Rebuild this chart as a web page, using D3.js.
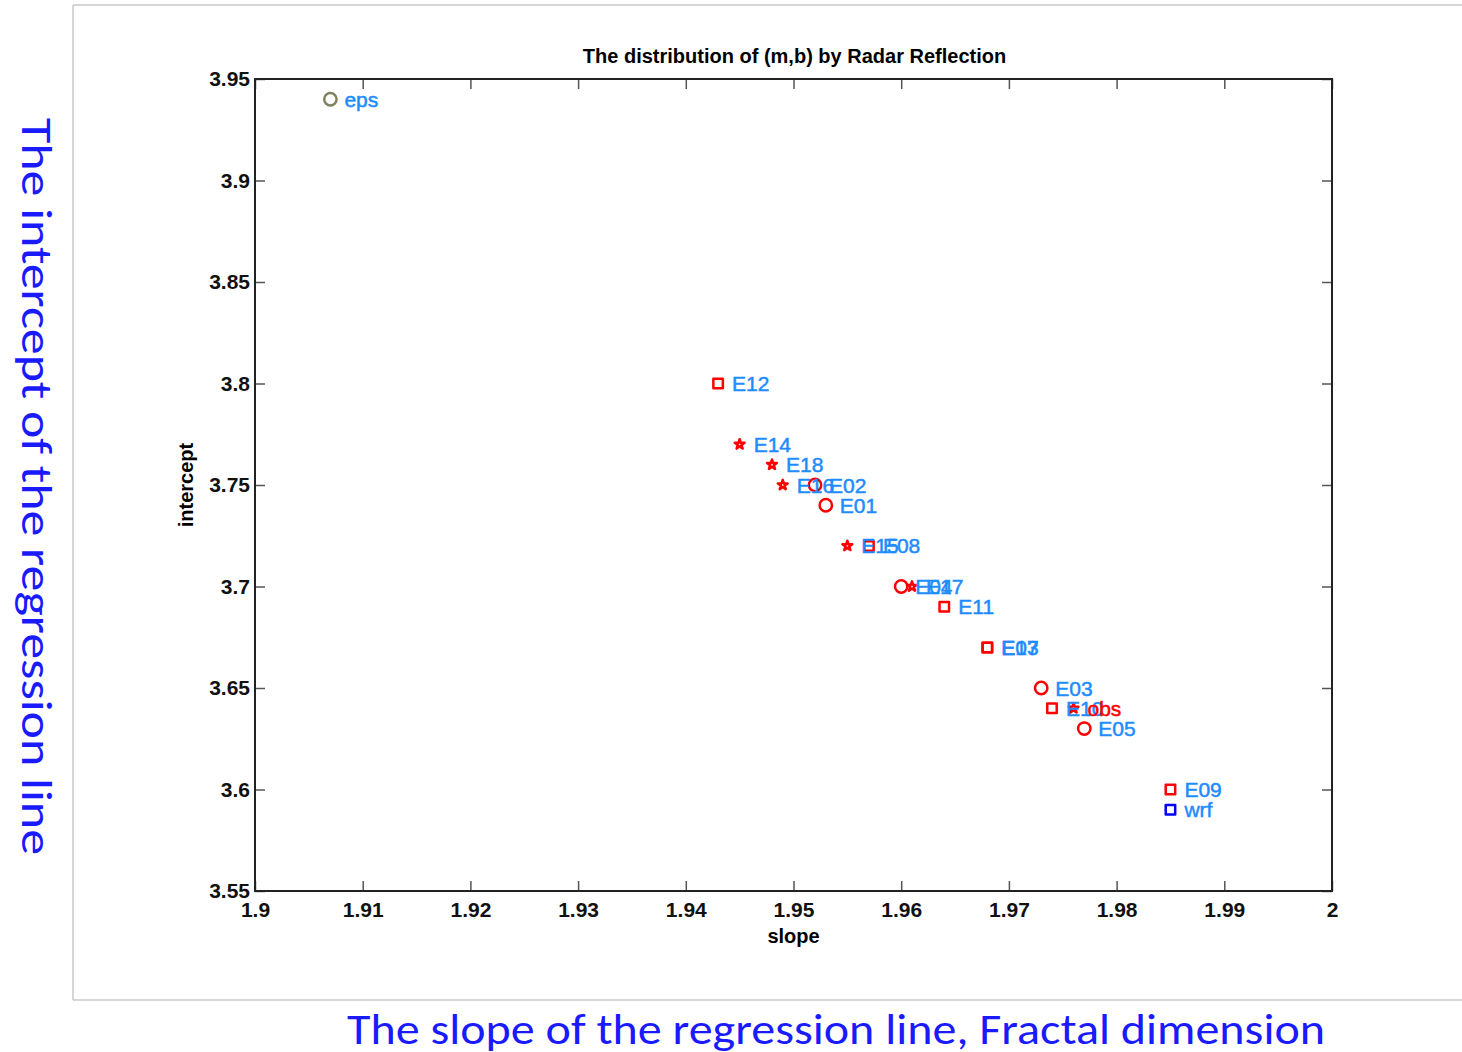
<!DOCTYPE html>
<html>
<head>
<meta charset="utf-8">
<script src="https://cdn.jsdelivr.net/npm/d3@7"></script>
<style>
  body { margin: 0; background: #fff; }
  svg { display: block; }
</style>
</head>
<body>
<div id="chart"></div>
<script>
// point data
var names      = ["eps","E12","E14","E18","E16","E02","E01","E15","E08","E04","E17","E11","E07","E13","E03","E10","obs","E05","E09","wrf"];
var slopes     = [1.907,1.943,1.945,1.948,1.949,1.952,1.953,1.955,1.957,1.960,1.961,1.964,1.968,1.968,1.973,1.974,1.976,1.977,1.985,1.985];
var intercepts = [3.94,3.80,3.77,3.76,3.75,3.75,3.74,3.72,3.72,3.70,3.70,3.69,3.67,3.67,3.65,3.64,3.64,3.63,3.60,3.59];
var shapes     = ["circle","square","star","star","star","circle","circle","star","square","circle","star","square","square","square","circle","square","star","circle","square","square"];
var markColors = ["#80805f","red","red","red","red","red","red","red","red","red","red","red","red","red","red","red","red","red","red","#0000ff"];
var textColors = ["#1e8cff","#1e8cff","#1e8cff","#1e8cff","#1e8cff","#1e8cff","#1e8cff","#1e8cff","#1e8cff","#1e8cff","#1e8cff","#1e8cff","#1e8cff","#1e8cff","#1e8cff","#1e8cff","red","#1e8cff","#1e8cff","#1e8cff"];

var xTicks = [1.9,1.91,1.92,1.93,1.94,1.95,1.96,1.97,1.98,1.99,2];
var yTicks = [3.55,3.6,3.65,3.7,3.75,3.8,3.85,3.9,3.95];

var width = 1462, height = 1052;
var pLeft = 255, pRight = 1332, pTop = 79, pBottom = 891;

var svg = d3.select("#chart").append("svg")
    .attr("width", width)
    .attr("height", height);

// slide frame
var frame = svg.append("g").attr("stroke", "#c8c8c8").attr("stroke-width", 1.5);
frame.append("line").attr("x1", 73).attr("y1", 5).attr("x2", 73).attr("y2", 1000);
frame.append("line").attr("x1", 73).attr("y1", 5).attr("x2", width).attr("y2", 5);
frame.append("line").attr("x1", 73).attr("y1", 1000).attr("x2", width).attr("y2", 1000);

var x = d3.scaleLinear().domain([1.9, 2]).range([pLeft, pRight]);
var y = d3.scaleLinear().domain([3.55, 3.95]).range([pBottom, pTop]);

var fmt = function(d) { return String(+d.toFixed(3)); };

// axes, ticks pointing inward like matlab
var axisFont = "'Liberation Sans', Arial, sans-serif";
function styleAxis(g, showText) {
  g.select(".domain").remove();
  g.selectAll(".tick line").attr("stroke", "#555").attr("stroke-width", 1.5);
  g.selectAll(".tick text")
    .attr("fill", "#111")
    .style("font-family", axisFont)
    .style("font-size", "21px")
    .style("font-weight", "bold")
    .style("display", showText ? null : "none");
}

svg.append("g").attr("transform", "translate(0," + pBottom + ")")
  .call(d3.axisBottom(x).tickValues(xTicks).tickFormat(fmt).tickSizeInner(-10).tickSizeOuter(0).tickPadding(11))
  .call(function(g) { styleAxis(g, true); });
svg.append("g").attr("transform", "translate(0," + pTop + ")")
  .call(d3.axisTop(x).tickValues(xTicks).tickSizeInner(-10).tickSizeOuter(0))
  .call(function(g) { styleAxis(g, false); });
svg.append("g").attr("transform", "translate(" + pLeft + ",0)")
  .call(d3.axisLeft(y).tickValues(yTicks).tickFormat(fmt).tickSizeInner(-10).tickSizeOuter(0).tickPadding(5))
  .call(function(g) { styleAxis(g, true); });
svg.append("g").attr("transform", "translate(" + pRight + ",0)")
  .call(d3.axisRight(y).tickValues(yTicks).tickSizeInner(-10).tickSizeOuter(0))
  .call(function(g) { styleAxis(g, false); });

svg.append("rect")
  .attr("x", pLeft).attr("y", pTop)
  .attr("width", pRight - pLeft).attr("height", pBottom - pTop)
  .attr("fill", "none").attr("stroke", "#222").attr("stroke-width", 2);

// titles
svg.append("text")
  .attr("x", (pLeft + pRight) / 2 + 1).attr("y", 63)
  .attr("text-anchor", "middle")
  .style("font-family", axisFont).style("font-size", "20px").style("font-weight", "bold")
  .text("The distribution of (m,b) by Radar Reflection");
svg.append("text")
  .attr("x", (pLeft + pRight) / 2).attr("y", 943)
  .attr("text-anchor", "middle")
  .style("font-family", axisFont).style("font-size", "20px").style("font-weight", "bold")
  .text("slope");
svg.append("text")
  .attr("transform", "translate(193," + ((pTop + pBottom) / 2) + ") rotate(-90)")
  .attr("text-anchor", "middle")
  .style("font-family", axisFont).style("font-size", "20px").style("font-weight", "bold")
  .text("intercept");

// markers
var pts = names.map(function(n, i) {
  return { name: n, m: slopes[i], b: intercepts[i], shape: shapes[i], mc: markColors[i], tc: textColors[i] };
});

var symType = { circle: d3.symbolCircle, square: d3.symbolSquare, star: d3.symbolStar };
var symSize = { circle: 120, square: 90, star: 30 };

svg.append("g").selectAll("path")
  .data(pts)
  .enter().append("path")
  .attr("transform", function(d) { return "translate(" + x(d.m) + "," + y(d.b) + ")"; })
  .attr("d", function(d) { return d3.symbol().type(symType[d.shape]).size(symSize[d.shape])(); })
  .attr("fill", "none")
  .attr("stroke", function(d) { return d.mc; })
  .attr("stroke-linejoin", "round")
  .attr("stroke-width", 2.5);

svg.append("g").selectAll("text")
  .data(pts)
  .enter().append("text")
  .attr("x", function(d) { return x(d.m) + 14; })
  .attr("y", function(d) { return y(d.b); })
  .attr("dy", "0.36em")
  .attr("fill", function(d) { return d.tc; })
  .attr("stroke", function(d) { return d.tc; })
  .attr("stroke-width", 0.5)
  .style("font-family", axisFont)
  .style("font-size", "21px")
  .text(function(d) { return d.name; });

// slide captions
var capFont = "Carlito, Calibri, 'Open Sans', 'Noto Sans', sans-serif";
svg.append("text")
  .attr("transform", "translate(22,118) rotate(90)")
  .attr("fill", "#1a1aff")
  .attr("textLength", 737).attr("lengthAdjust", "spacingAndGlyphs")
  .style("font-family", capFont).style("font-size", "44px")
  .text("The intercept of the regression line");
svg.append("text")
  .attr("x", 347).attr("y", 1044)
  .attr("fill", "#1a1aff")
  .attr("textLength", 978).attr("lengthAdjust", "spacingAndGlyphs")
  .style("font-family", capFont).style("font-size", "44px")
  .text("The slope of the regression line, Fractal dimension");
</script>
</body>
</html>
